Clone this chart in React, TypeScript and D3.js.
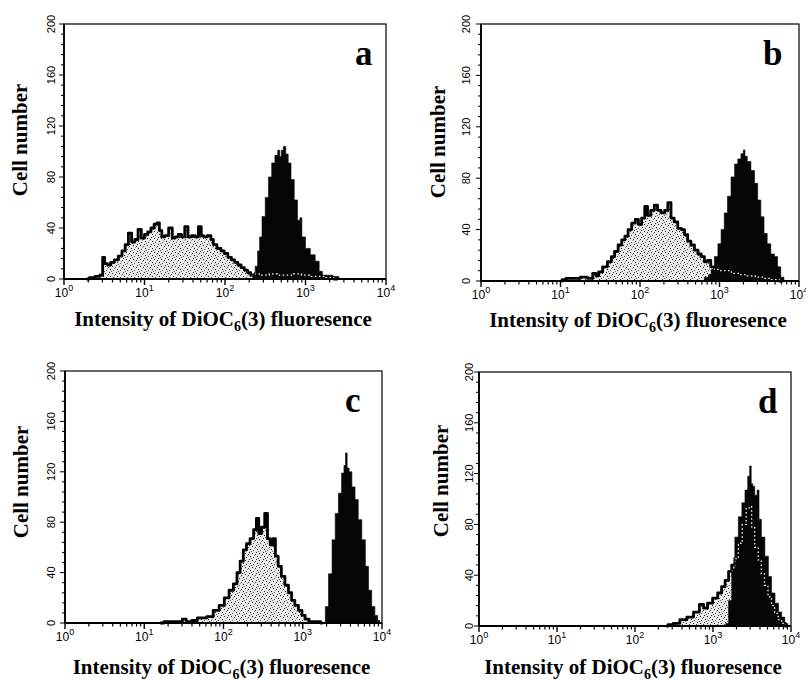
import React from 'react';
import * as d3 from 'd3';

type Pt = [number, number]; // [log10 of fluorescence intensity, cell number]

// ---- axis data ----
const yTickValues = [0, 40, 80, 120, 160, 200];
const yMinorStep = 8;
const xDecades = [0, 1, 2, 3, 4];
const panelLetters = ['a', 'b', 'c', 'd'];
const yAxisTitle = 'Cell number';

// ---- panel a ----
const grayA: Pt[] = [[0.28,0],[0.35,1],[0.42,2],[0.47,3],[0.49,17],[0.52,12],[0.56,11],[0.60,13],[0.65,15],[0.70,18],[0.74,22],[0.78,27],[0.82,36],[0.86,29],[0.90,31],[0.94,39],[0.98,32],[1.02,35],[1.06,37],[1.10,40],[1.14,43],[1.17,44],[1.20,38],[1.23,33],[1.27,34],[1.33,40],[1.36,32],[1.40,33],[1.44,35],[1.48,33],[1.52,41],[1.56,33],[1.61,34],[1.65,33],[1.69,41],[1.72,34],[1.75,33],[1.81,34],[1.84,31],[1.87,27],[1.93,24],[1.97,22],[2.01,20],[2.06,17],[2.10,15],[2.14,13],[2.18,11],[2.22,9],[2.26,7],[2.30,5],[2.34,3],[2.40,4],[2.50,3],[2.60,4],[2.70,3],[2.80,3],[2.90,4],[3.00,3],[3.10,2],[3.20,2],[3.30,1],[3.40,0]];
const blackA: Pt[] = [[2.33,0],[2.36,3],[2.39,10],[2.42,22],[2.44,33],[2.48,49],[2.52,64],[2.56,80],[2.60,91],[2.64,97],[2.67,101],[2.69,96],[2.71,101],[2.74,104],[2.77,98],[2.80,91],[2.84,78],[2.88,62],[2.92,46],[2.94,48],[2.97,33],[3.03,24],[3.09,19],[3.15,14],[3.19,6],[3.23,3],[3.30,3],[3.38,2],[3.45,0]];

// ---- panel b ----
const grayB: Pt[] = [[1.00,0],[1.04,1],[1.10,2],[1.20,2],[1.30,3],[1.38,2],[1.43,6],[1.46,4],[1.50,7],[1.56,11],[1.62,15],[1.66,19],[1.70,23],[1.75,28],[1.79,32],[1.83,35],[1.87,40],[1.92,45],[1.96,48],[2.00,44],[2.04,49],[2.08,58],[2.11,51],[2.16,55],[2.20,59],[2.24,55],[2.29,53],[2.33,55],[2.37,61],[2.41,49],[2.45,46],[2.50,41],[2.54,40],[2.58,36],[2.62,31],[2.66,28],[2.71,24],[2.75,21],[2.79,19],[2.83,15],[2.87,16],[2.91,11],[2.96,9],[3.00,8],[3.10,8],[3.20,6],[3.30,5],[3.40,4],[3.50,3],[3.60,2],[3.70,1],[3.80,0]];
const blackB: Pt[] = [[2.78,0],[2.84,3],[2.88,5],[2.91,9],[2.96,19],[3.00,29],[3.04,40],[3.08,53],[3.12,66],[3.17,81],[3.21,91],[3.25,95],[3.29,99],[3.31,102],[3.33,97],[3.37,93],[3.42,86],[3.46,76],[3.50,63],[3.54,50],[3.58,37],[3.62,29],[3.67,21],[3.71,19],[3.75,11],[3.79,3],[3.83,0]];

// ---- panel c ----
const grayC: Pt[] = [[1.20,0],[1.30,1],[1.45,1],[1.51,3],[1.55,1],[1.65,2],[1.69,4],[1.75,4],[1.83,5],[1.91,10],[1.98,14],[2.04,20],[2.10,26],[2.15,31],[2.19,40],[2.23,49],[2.27,58],[2.31,63],[2.36,67],[2.40,74],[2.43,83],[2.46,71],[2.50,76],[2.54,87],[2.57,67],[2.61,62],[2.64,67],[2.67,53],[2.71,45],[2.75,37],[2.80,30],[2.84,24],[2.88,18],[2.92,14],[2.97,10],[3.01,6],[3.05,3],[3.11,1],[3.20,1],[3.25,0]];
const blackC: Pt[] = [[3.27,0],[3.30,13],[3.35,39],[3.39,66],[3.43,87],[3.47,103],[3.51,119],[3.53,125],[3.55,135],[3.57,123],[3.60,120],[3.64,108],[3.68,98],[3.72,82],[3.77,66],[3.81,45],[3.85,26],[3.89,13],[3.93,6],[3.96,2],[3.98,0]];

// ---- panel d ----
const grayD: Pt[] = [[2.40,0],[2.45,1],[2.53,2],[2.62,5],[2.71,7],[2.79,11],[2.86,17],[2.90,14],[2.96,18],[3.03,22],[3.09,26],[3.13,31],[3.18,36],[3.22,43],[3.26,48],[3.30,53],[3.35,65],[3.40,80],[3.45,93],[3.48,94],[3.51,78],[3.56,62],[3.60,52],[3.64,41],[3.68,32],[3.73,23],[3.77,16],[3.81,10],[3.86,5],[3.90,2],[3.95,0]];
const blackD: Pt[] = [[3.15,0],[3.18,2],[3.22,20],[3.26,45],[3.30,70],[3.35,86],[3.39,97],[3.43,107],[3.46,118],[3.48,126],[3.50,112],[3.52,110],[3.55,103],[3.58,107],[3.60,84],[3.64,70],[3.69,55],[3.73,39],[3.77,26],[3.82,18],[3.86,11],[3.90,7],[3.94,2],[3.98,0]];

const grays = [grayA, grayB, grayC, grayD];
const blacks = [blackA, blackB, blackC, blackD];

// ---- layout (pixels) ----
const layouts = [
  { L: 64, T: 24, R: 386, B: 279, yTitleX: 27, yTitleY: 140, yTickOff: 9, letterOff: 31, xTitleDy: 47 },
  { L: 481, T: 24, R: 799, B: 281, yTitleX: 445, yTitleY: 142, yTickOff: 11, letterOff: 36, xTitleDy: 46 },
  { L: 65, T: 371, R: 382, B: 623, yTitleX: 28, yTitleY: 482, yTickOff: 10, letterOff: 37, xTitleDy: 51 },
  { L: 479, T: 372, R: 791, B: 626, yTitleX: 448, yTitleY: 481, yTickOff: 6, letterOff: 33, xTitleDy: 48 },
];

const SERIF = "'Liberation Serif','Times New Roman',Times,serif";
const SANS = "'Liberation Sans',Arial,Helvetica,sans-serif";
const NARROW = "'Liberation Sans Narrow','Arial Narrow','Liberation Sans',Arial,sans-serif";

const stipple: [number, number, string][] = [
  [0, 0, '#222'], [3, 1, '#444'], [5, 3, '#111'], [1, 4, '#555'], [4, 6, '#333'], [6, 5, '#666'], [2, 2, '#999'],
];

function Panel({ i }: { i: number }) {
  const lay = layouts[i];
  const gray = grays[i];
  const black = blacks[i];
  const x = d3.scaleLog().domain([1, 10000]).range([lay.L, lay.R]);
  const y = d3.scaleLinear().domain([0, 200]).range([lay.B, lay.T]);
  const px = (d: Pt) => x(Math.pow(10, d[0]));
  const py = (d: Pt) => y(d[1]);
  const area = d3.area<Pt>().x(px).y0(lay.B).y1(py).curve(d3.curveStep);
  const line = d3.line<Pt>().x(px).y(py).curve(d3.curveStep);

  const minor: number[] = [];
  for (let dcd = 0; dcd < 4; dcd++) for (let k = 2; k <= 9; k++) minor.push(k * Math.pow(10, dcd));
  const yMinor = d3.range(0, 201, yMinorStep);
  const clipId = `blk${i}`;

  return (
    <g>
      <defs>
        <clipPath id={clipId}>
          <path d={area(black) || ''} />
        </clipPath>
      </defs>
      <path d={area(gray) || ''} fill="url(#stip)" />
      <path d={line(gray) || ''} fill="none" stroke="#000" strokeWidth={2.8} strokeLinejoin="round" />
      <path d={area(black) || ''} fill="#050505" stroke="#050505" strokeWidth={0.6} />
      <path d={line(gray) || ''} fill="none" stroke="#fff" strokeWidth={1.3} strokeDasharray="1.5 2.5" clipPath={`url(#${clipId})`} />

      <rect x={lay.L} y={lay.T} width={lay.R - lay.L} height={lay.B - lay.T} fill="none" stroke="#000" strokeWidth={1.2} />
      <line x1={lay.L} x2={lay.L} y1={lay.T} y2={lay.B} stroke="#000" strokeWidth={1.8} />
      <line x1={lay.L} x2={lay.R} y1={lay.B} y2={lay.B} stroke="#000" strokeWidth={2} />

      {minor.map((v) => (
        <line key={'mx' + v} x1={x(v)} x2={x(v)} y1={lay.B} y2={lay.B + 3.5} stroke="#000" strokeWidth={1.2} />
      ))}
      {xDecades.map((dcd) => (
        <line key={'Mx' + dcd} x1={x(Math.pow(10, dcd))} x2={x(Math.pow(10, dcd))} y1={lay.B} y2={lay.B + 6} stroke="#000" strokeWidth={1.4} />
      ))}
      {xDecades.map((dcd) => (
        <text key={'lx' + dcd} x={x(Math.pow(10, dcd))} y={lay.B + 18} textAnchor="middle" fontFamily={SANS} fontSize={12} fill="#000">
          10<tspan dy={-6} fontSize={9}>{dcd}</tspan>
        </text>
      ))}

      {yMinor.map((v) => (
        <line key={'my' + v} x1={lay.L} x2={lay.L - (v % 40 === 0 ? 5 : 3)} y1={y(v)} y2={y(v)} stroke="#000" strokeWidth={1} />
      ))}
      {yTickValues.map((v) => (
        <text key={'ly' + v} transform={`translate(${lay.L - lay.yTickOff},${y(v)}) rotate(-90)`} textAnchor="middle" fontFamily={NARROW} fontSize={11} fill="#000">
          {v}
        </text>
      ))}

      <text transform={`translate(${lay.yTitleX},${lay.yTitleY}) rotate(-90)`} textAnchor="middle" fontFamily={SERIF} fontWeight="bold" fontSize={21} fill="#000">
        {yAxisTitle}
      </text>
      <text x={(lay.L + lay.R) / 2 - 2} y={lay.B + lay.xTitleDy} textAnchor="middle" fontFamily={SERIF} fontWeight="bold" fontSize={21} fill="#000">
        Intensity of DiOC<tspan fontSize={14} dy={5}>6</tspan><tspan dy={-5}>(3) fluoresence</tspan>
      </text>
      <text x={lay.R - lay.letterOff} y={lay.T + 41} fontFamily={SERIF} fontWeight="bold" fontSize={35} fill="#000">
        {panelLetters[i]}
      </text>
    </g>
  );
}

export default function App() {
  return (
    <svg width={806} height={681} style={{ position: 'absolute', left: 0, top: 0, background: '#fff' }}>
      <defs>
        <pattern id="stip" width={7} height={7} patternUnits="userSpaceOnUse">
          <rect width={7} height={7} fill="#e8e8e8" />
          {stipple.map(([sx, sy, c], k) => (
            <rect key={k} x={sx} y={sy} width={1} height={1} fill={c} />
          ))}
        </pattern>
      </defs>
      <rect width={806} height={681} fill="#fff" />
      {layouts.map((_, i) => (
        <Panel key={i} i={i} />
      ))}
    </svg>
  );
}
